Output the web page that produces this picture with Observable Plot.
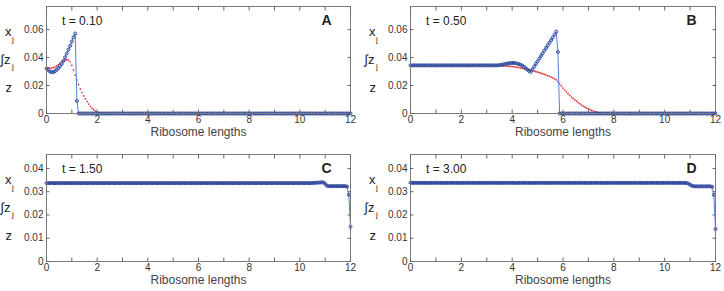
<!DOCTYPE html>
<html>
<head>
<meta charset="utf-8">
<script src="https://cdn.jsdelivr.net/npm/d3@7"></script>
<script src="https://cdn.jsdelivr.net/npm/@observablehq/plot@0.6"></script>
<style>
  body { margin: 0; background: #fff; }
  #fig { position: relative; width: 724px; height: 291px; font-family: "Liberation Sans", Arial, Helvetica, sans-serif; }
  #fig > div { position: absolute; }
</style>
</head>
<body>
<div id="fig"></div>
<script>
// Lattice sites along the transcript: 15 sites per ribosome length, 0 … 12
const sites = d3.range(0, 181).map(i => i / 15);

const xTicks = [0, 1, 2, 3, 4, 5, 6, 7, 8, 9, 10, 11, 12];
const yTicksHigh = [0, 0.02, 0.04, 0.06];
const yTicksLow = [0, 0.01, 0.02, 0.03, 0.04];

// t = 0.10 : ribosome density x_j (one row per ribosome length) and smoothed density z
const xA = [
  .032, .0312, .0300, .0294, .0296, .0302, .0312, .0324, .0338, .0354, .0376, .0402, .043, .0457, .0484,
  .0515, .0545, .0572, .009, 0, 0, 0, 0, 0, 0, 0, 0, 0, 0, 0,
  0, 0, 0, 0, 0, 0, 0, 0, 0, 0, 0, 0, 0, 0, 0,
  0, 0, 0, 0, 0, 0, 0, 0, 0, 0, 0, 0, 0, 0, 0,
  0, 0, 0, 0, 0, 0, 0, 0, 0, 0, 0, 0, 0, 0, 0,
  0, 0, 0, 0, 0, 0, 0, 0, 0, 0, 0, 0, 0, 0, 0,
  0, 0, 0, 0, 0, 0, 0, 0, 0, 0, 0, 0, 0, 0, 0,
  0, 0, 0, 0, 0, 0, 0, 0, 0, 0, 0, 0, 0, 0, 0,
  0, 0, 0, 0, 0, 0, 0, 0, 0, 0, 0, 0, 0, 0, 0,
  0, 0, 0, 0, 0, 0, 0, 0, 0, 0, 0, 0, 0, 0, 0,
  0, 0, 0, 0, 0, 0, 0, 0, 0, 0, 0, 0, 0, 0, 0,
  0, 0, 0, 0, 0, 0, 0, 0, 0, 0, 0, 0, 0, 0, 0,
  0
];
const zA = [
  .033, .0327, .0325, .0325, .0328, .0332, .034, .035, .036, .037, .0377, .0382, .0385, .0382, .037,
  .0345, .0312, .0275, .024, .0207, .0176, .015, .0126, .0105, .0085, .0068, .0052, .0038, .0027, .0018,
  .0011, .0006, .0003, .0001, 0, 0, 0, 0, 0, 0, 0, 0, 0, 0, 0,
  0, 0, 0, 0, 0, 0, 0, 0, 0, 0, 0, 0, 0, 0, 0,
  0, 0, 0, 0, 0, 0, 0, 0, 0, 0, 0, 0, 0, 0, 0,
  0, 0, 0, 0, 0, 0, 0, 0, 0, 0, 0, 0, 0, 0, 0,
  0, 0, 0, 0, 0, 0, 0, 0, 0, 0, 0, 0, 0, 0, 0,
  0, 0, 0, 0, 0, 0, 0, 0, 0, 0, 0, 0, 0, 0, 0,
  0, 0, 0, 0, 0, 0, 0, 0, 0, 0, 0, 0, 0, 0, 0,
  0, 0, 0, 0, 0, 0, 0, 0, 0, 0, 0, 0, 0, 0, 0,
  0, 0, 0, 0, 0, 0, 0, 0, 0, 0, 0, 0, 0, 0, 0,
  0, 0, 0, 0, 0, 0, 0, 0, 0, 0, 0, 0, 0, 0, 0,
  0
];

// t = 0.50
const xB = [
  .0344, .0344, .0344, .0344, .0344, .0344, .0344, .0344, .0344, .0344, .0344, .0344, .0344, .0344, .0344,
  .0344, .0344, .0344, .0344, .0344, .0344, .0344, .0344, .0344, .0344, .0344, .0344, .0344, .0344, .0344,
  .0344, .0344, .0344, .0344, .0344, .0344, .0344, .0344, .0344, .0344, .0344, .0344, .0344, .0344, .0344,
  .0344, .0344, .0344, .0344, .0344, .0344, .0344, .0345, .0347, .0349, .0352, .0354, .0357, .0359, .036,
  .0361, .0361, .0359, .0357, .0353, .0348, .0342, .0334, .0324, .0314, .0304, .0298, .0317, .0336, .0355,
  .0373, .0392, .0411, .043, .0449, .0468, .0487, .0506, .0525, .0544, .0564, .0586, .044, 0, 0,
  0, 0, 0, 0, 0, 0, 0, 0, 0, 0, 0, 0, 0, 0, 0,
  0, 0, 0, 0, 0, 0, 0, 0, 0, 0, 0, 0, 0, 0, 0,
  0, 0, 0, 0, 0, 0, 0, 0, 0, 0, 0, 0, 0, 0, 0,
  0, 0, 0, 0, 0, 0, 0, 0, 0, 0, 0, 0, 0, 0, 0,
  0, 0, 0, 0, 0, 0, 0, 0, 0, 0, 0, 0, 0, 0, 0,
  0, 0, 0, 0, 0, 0, 0, 0, 0, 0, 0, 0, 0, 0, 0,
  0
];
const zB = [
  .0343, .0343, .0343, .0343, .0343, .0343, .0343, .0343, .0343, .0343, .0343, .0343, .0343, .0343, .0343,
  .0343, .0343, .0343, .0343, .0343, .0343, .0343, .0343, .0343, .0343, .0343, .0343, .0343, .0343, .0343,
  .0343, .0343, .0343, .0343, .0343, .0343, .0343, .0343, .0343, .0343, .0343, .0343, .0343, .0343, .0343,
  .0343, .0343, .0343, .0343, .0343, .0343, .0343, .0343, .0342, .0341, .0341, .034, .0339, .0338, .0337,
  .0336, .0334, .0332, .033, .0328, .0325, .0323, .032, .0318, .0315, .0312, .031, .0306, .0303, .0299,
  .0296, .0292, .0288, .0284, .028, .0276, .0271, .0266, .0261, .0255, .0248, .0241, .0228, .0214, .0198,
  .0182, .0168, .0155, .0142, .013, .0118, .0108, .0098, .0088, .0078, .0069, .006, .0052, .0045, .0039,
  .0033, .0028, .0023, .0018, .0014, .001, .0007, .0004, .0002, .0001, 0, 0, 0, 0, 0,
  0, 0, 0, 0, 0, 0, 0, 0, 0, 0, 0, 0, 0, 0, 0,
  0, 0, 0, 0, 0, 0, 0, 0, 0, 0, 0, 0, 0, 0, 0,
  0, 0, 0, 0, 0, 0, 0, 0, 0, 0, 0, 0, 0, 0, 0,
  0, 0, 0, 0, 0, 0, 0, 0, 0, 0, 0, 0, 0, 0, 0,
  0
];

// t = 1.50
const xC = [
  .0337, .0337, .0337, .0337, .0337, .0337, .0337, .0337, .0337, .0337, .0337, .0337, .0337, .0337, .0337,
  .0337, .0337, .0337, .0337, .0337, .0337, .0337, .0337, .0337, .0337, .0337, .0337, .0337, .0337, .0337,
  .0337, .0337, .0337, .0337, .0337, .0337, .0337, .0337, .0337, .0337, .0337, .0337, .0337, .0337, .0337,
  .0337, .0337, .0337, .0337, .0337, .0337, .0337, .0337, .0337, .0337, .0337, .0337, .0337, .0337, .0337,
  .0337, .0337, .0337, .0337, .0337, .0337, .0337, .0337, .0337, .0337, .0337, .0337, .0337, .0337, .0337,
  .0337, .0337, .0337, .0337, .0337, .0337, .0337, .0337, .0337, .0337, .0337, .0337, .0337, .0337, .0337,
  .0337, .0337, .0337, .0337, .0337, .0337, .0337, .0337, .0337, .0337, .0337, .0337, .0337, .0337, .0337,
  .0337, .0337, .0337, .0337, .0337, .0337, .0337, .0337, .0337, .0337, .0337, .0337, .0337, .0337, .0337,
  .0337, .0337, .0337, .0337, .0337, .0337, .0337, .0337, .0337, .0337, .0337, .0337, .0337, .0337, .0337,
  .0337, .0337, .0337, .0337, .0337, .0337, .0337, .0337, .0337, .0337, .0337, .0337, .0337, .0337, .0337,
  .0337, .0337, .0337, .0337, .0337, .0337, .0337, .0337, .0338, .0338, .0339, .0339, .034, .034, .034,
  .0334, .0326, .0324, .0324, .0324, .0324, .0324, .0324, .0324, .0324, .0324, .0324, .0324, .0322, .0287,
  .015
];
const zC = [
  .0337, .0337, .0337, .0337, .0337, .0337, .0337, .0337, .0337, .0337, .0337, .0337, .0337, .0337, .0337,
  .0337, .0337, .0337, .0337, .0337, .0337, .0337, .0337, .0337, .0337, .0337, .0337, .0337, .0337, .0337,
  .0337, .0337, .0337, .0337, .0337, .0337, .0337, .0337, .0337, .0337, .0337, .0337, .0337, .0337, .0337,
  .0337, .0337, .0337, .0337, .0337, .0337, .0337, .0337, .0337, .0337, .0337, .0337, .0337, .0337, .0337,
  .0337, .0337, .0337, .0337, .0337, .0337, .0337, .0337, .0337, .0337, .0337, .0337, .0337, .0337, .0337,
  .0337, .0337, .0337, .0337, .0337, .0337, .0337, .0337, .0337, .0337, .0337, .0337, .0337, .0337, .0337,
  .0337, .0337, .0337, .0337, .0337, .0337, .0337, .0337, .0337, .0337, .0337, .0337, .0337, .0337, .0337,
  .0337, .0337, .0337, .0337, .0337, .0337, .0337, .0337, .0337, .0337, .0337, .0337, .0337, .0337, .0337,
  .0337, .0337, .0337, .0337, .0337, .0337, .0337, .0337, .0337, .0337, .0337, .0337, .0337, .0337, .0337,
  .0337, .0337, .0337, .0337, .0337, .0337, .0337, .0337, .0337, .0337, .0337, .0337, .0337, .0337, .0337,
  .0337, .0337, .0337, .0337, .0337, .0337, .0337, .0337, .0338, .0338, .0339, .0339, .034, .034, .034,
  .0334, .0326, .0324, .0324, .0324, .0324, .0324, .0324, .0324, .0324, .0324, .0324, .0324, .0322, .0285,
  .0138
];

// t = 3.00
const xD = [
  .0338, .0338, .0338, .0338, .0338, .0338, .0338, .0338, .0338, .0338, .0338, .0338, .0338, .0338, .0338,
  .0338, .0338, .0338, .0338, .0338, .0338, .0338, .0338, .0338, .0338, .0338, .0338, .0338, .0338, .0338,
  .0338, .0338, .0338, .0338, .0338, .0338, .0338, .0338, .0338, .0338, .0338, .0338, .0338, .0338, .0338,
  .0338, .0338, .0338, .0338, .0338, .0338, .0338, .0338, .0338, .0338, .0338, .0338, .0338, .0338, .0338,
  .0338, .0338, .0338, .0338, .0338, .0338, .0338, .0338, .0338, .0338, .0338, .0338, .0338, .0338, .0338,
  .0338, .0338, .0338, .0338, .0338, .0338, .0338, .0338, .0338, .0338, .0338, .0338, .0338, .0338, .0338,
  .0338, .0338, .0338, .0338, .0338, .0338, .0338, .0338, .0338, .0338, .0338, .0338, .0338, .0338, .0338,
  .0338, .0338, .0338, .0338, .0338, .0338, .0338, .0338, .0338, .0338, .0338, .0338, .0338, .0338, .0338,
  .0338, .0338, .0338, .0338, .0338, .0338, .0338, .0338, .0338, .0338, .0338, .0338, .0338, .0338, .0338,
  .0338, .0338, .0338, .0338, .0338, .0338, .0338, .0338, .0338, .0338, .0338, .0338, .0338, .0338, .0338,
  .0338, .0338, .0338, .0338, .0338, .0338, .0338, .0338, .0338, .0338, .0338, .0338, .0338, .0337, .0335,
  .033, .0326, .0324, .0323, .0323, .0323, .0323, .0323, .0323, .0323, .0323, .0323, .0323, .0321, .0287,
  .014
];
const zD = [
  .0338, .0338, .0338, .0338, .0338, .0338, .0338, .0338, .0338, .0338, .0338, .0338, .0338, .0338, .0338,
  .0338, .0338, .0338, .0338, .0338, .0338, .0338, .0338, .0338, .0338, .0338, .0338, .0338, .0338, .0338,
  .0338, .0338, .0338, .0338, .0338, .0338, .0338, .0338, .0338, .0338, .0338, .0338, .0338, .0338, .0338,
  .0338, .0338, .0338, .0338, .0338, .0338, .0338, .0338, .0338, .0338, .0338, .0338, .0338, .0338, .0338,
  .0338, .0338, .0338, .0338, .0338, .0338, .0338, .0338, .0338, .0338, .0338, .0338, .0338, .0338, .0338,
  .0338, .0338, .0338, .0338, .0338, .0338, .0338, .0338, .0338, .0338, .0338, .0338, .0338, .0338, .0338,
  .0338, .0338, .0338, .0338, .0338, .0338, .0338, .0338, .0338, .0338, .0338, .0338, .0338, .0338, .0338,
  .0338, .0338, .0338, .0338, .0338, .0338, .0338, .0338, .0338, .0338, .0338, .0338, .0338, .0338, .0338,
  .0338, .0338, .0338, .0338, .0338, .0338, .0338, .0338, .0338, .0338, .0338, .0338, .0338, .0338, .0338,
  .0338, .0338, .0338, .0338, .0338, .0338, .0338, .0338, .0338, .0338, .0338, .0338, .0338, .0338, .0338,
  .0338, .0338, .0338, .0338, .0338, .0338, .0338, .0338, .0338, .0338, .0338, .0338, .0338, .0337, .0335,
  .033, .0326, .0324, .0323, .0323, .0323, .0323, .0323, .0323, .0323, .0323, .0323, .0323, .0321, .0285,
  .0132
];

const panels = [
  {letter: "A", time: "t = 0.10", x: xA, z: zA, yMax: 0.0765, yTicks: yTicksHigh,
   left: 0, top: 0, width: 362, height: 145, m: {l: 46, r: 12, t: 6, b: 32}},
  {letter: "B", time: "t = 0.50", x: xB, z: zB, yMax: 0.0765, yTicks: yTicksHigh,
   left: 362, top: 0, width: 362, height: 145, m: {l: 48, r: 9, t: 6, b: 32}},
  {letter: "C", time: "t = 1.50", x: xC, z: zC, yMax: 0.046, yTicks: yTicksLow,
   left: 0, top: 145, width: 362, height: 146, m: {l: 46, r: 12, t: 9, b: 30}},
  {letter: "D", time: "t = 3.00", x: xD, z: zD, yMax: 0.046, yTicks: yTicksLow,
   left: 362, top: 145, width: 362, height: 146, m: {l: 48, r: 9, t: 9, b: 30}}
];

const fig = document.getElementById("fig");
const font = '"Liberation Sans", Arial, Helvetica, sans-serif';
const label = (t, opts) => Plot.text([t], {text: d => d, frameAnchor: "left", fill: "#222", ...opts});

for (const p of panels) {
  const rows = sites.map((s, i) => ({s, x: p.x[i], z: p.z[i]}));
  const chart = Plot.plot({
    width: p.width,
    height: p.height,
    marginLeft: p.m.l,
    marginRight: p.m.r,
    marginTop: p.m.t,
    marginBottom: p.m.b,
    style: {fontFamily: font, fontSize: "10px", color: "#333", background: "#fff", overflow: "visible"},
    x: {domain: [0, 12]},
    y: {domain: [0, p.yMax]},
    marks: [
      // smoothed density z (red dots)
      Plot.dot(rows, {x: "s", y: "z", r: 0.85, fill: "#e3262b", stroke: null}),
      // ribosome density x_j (blue line with open circles)
      Plot.line(rows, {x: "s", y: "x", stroke: "#5b7fd6", strokeWidth: 1}),
      Plot.dot(rows, {x: "s", y: "x", r: 1.5, stroke: "#2d4aa0", strokeWidth: 1, fill: "none"}),
      Plot.frame({stroke: "#7a7a7a"}),
      Plot.axisX({anchor: "bottom", ticks: xTicks, tickSize: -3.5, tickPadding: 6,
                  tickFormat: d => (d % 2 ? "" : String(d)), label: null, stroke: "#666"}),
      Plot.axisX({anchor: "top", ticks: xTicks, tickSize: -3.5, tickFormat: () => "", label: null, stroke: "#666"}),
      Plot.axisY({anchor: "left", ticks: p.yTicks, tickSize: -3.5, tickPadding: 6.5,
                  tickFormat: d => String(d), label: null, stroke: "#666"}),
      Plot.axisY({anchor: "right", ticks: p.yTicks, tickSize: -3.5, tickFormat: () => "", label: null, stroke: "#666"}),
      Plot.text(["Ribosome lengths"], {text: d => d, frameAnchor: "bottom", lineAnchor: "top", dy: 14, fontSize: 12, fill: "#444"}),
      Plot.text([p.time], {text: d => d, frameAnchor: "top-left", dx: 15.5, dy: 9.5, fontSize: 12, fill: "#222"}),
      Plot.text([p.letter], {text: d => d, frameAnchor: "top-right", dx: -19, dy: 9, fontSize: 14, fontWeight: "bold", fill: "#222"}),
      // stacked y-axis label: x_j, ∫z_j, z
      label("x", {dx: -41.5, dy: -28, fontSize: 13}),
      label("j", {dx: -34.5, dy: -21, fontSize: 8}),
      label("\u222Bz", {dx: -46, dy: 0, fontSize: 13}),
      label("j", {dx: -34.5, dy: 6.5, fontSize: 8}),
      label("z", {dx: -41, dy: 28, fontSize: 13})
    ]
  });
  const holder = document.createElement("div");
  holder.style.left = p.left + "px";
  holder.style.top = p.top + "px";
  holder.appendChild(chart);
  fig.appendChild(holder);
}
</script>
</body>
</html>
